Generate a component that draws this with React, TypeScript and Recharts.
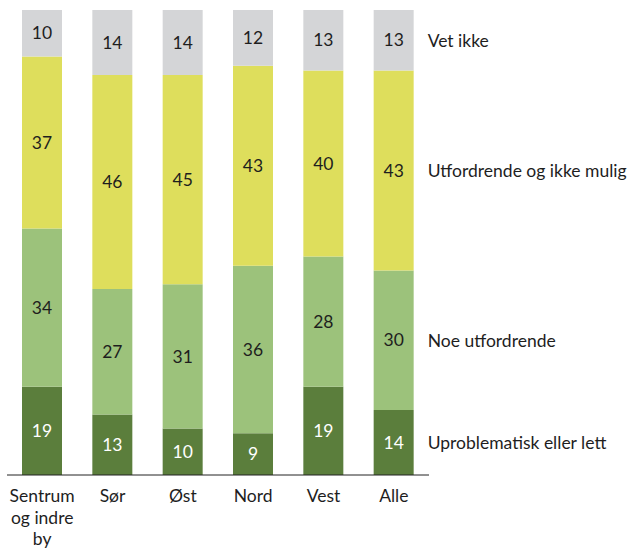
import { BarChart, Bar, XAxis, YAxis, LabelList } from "recharts";

// Andel (%) per område, fra bunn til topp i stabelen
const categories = ["Sentrum og indre by", "Sør", "Øst", "Nord", "Vest", "Alle"];
const tickLines: string[][] = [["Sentrum", "og indre", "by"], ["Sør"], ["Øst"], ["Nord"], ["Vest"], ["Alle"]];

const uproblematisk = [19, 13, 10, 9, 19, 14];
const noeUtfordrende = [34, 27, 31, 36, 28, 30];
const utfordrende = [37, 46, 45, 43, 40, 43];
const vetIkke = [10, 14, 14, 12, 13, 13];

const SERIES = [
  { key: "upr", name: "Uproblematisk eller lett", values: uproblematisk, color: "#5B7E3C", text: "#ffffff" },
  { key: "noe", name: "Noe utfordrende", values: noeUtfordrende, color: "#9CC27B", text: "#1e1e1e" },
  { key: "utf", name: "Utfordrende og ikke mulig", values: utfordrende, color: "#DEDE5C", text: "#1e1e1e" },
  { key: "vet", name: "Vet ikke", values: vetIkke, color: "#D4D5D7", text: "#1e1e1e" },
];

const data = categories.map((cat, i) => {
  const row: Record<string, any> = { cat, idx: i };
  SERIES.forEach((s) => (row[s.key] = s.values[i]));
  return row;
});

const FONT = "Lato, 'Open Sans', sans-serif";
const FS = 17.5;

function CategoryTick(props: any) {
  const { x, y, payload } = props;
  const lines = tickLines[payload.index] ?? [String(payload.value)];
  return (
    <text x={x} y={y} textAnchor="middle" fontFamily={FONT} fontSize={FS} fill="#1e1e1e">
      {lines.map((l, i) => (
        <tspan key={i} x={x} dy={i === 0 ? 27 : 21.5}>
          {l}
        </tspan>
      ))}
    </text>
  );
}

// skriver serienavnet til høyre for siste søyle
function seriesNameLabel(name: string) {
  return (props: any) => {
    const { x, y, width, height, index } = props;
    if (index !== categories.length - 1) return null;
    return (
      <text
        x={x + width + 14}
        y={y + height / 2}
        dominantBaseline="central"
        fontFamily={FONT}
        fontSize={FS}
        fill="#1e1e1e"
      >
        {name}
      </text>
    );
  };
}

export default function App() {
  return (
    <div style={{ position: "absolute", left: 0, top: 0, width: 628, height: 549, background: "#fff" }}>
      <BarChart
        width={628}
        height={549}
        data={data}
        margin={{ top: 10, right: 199, left: 7, bottom: 0 }}
        barSize={40}
      >
        <XAxis
          dataKey="cat"
          height={74}
          tickLine={false}
          tickSize={0}
          tickMargin={0}
          axisLine={{ stroke: "#222", strokeWidth: 1 }}
          tick={<CategoryTick />}
          interval={0}
        />
        <YAxis hide domain={[0, 100]} />
        {SERIES.map((s) => (
          <Bar key={s.key} dataKey={s.key} stackId="a" fill={s.color} isAnimationActive={false}>
            <LabelList
              dataKey={s.key}
              position="center"
              fill={s.text}
              fontFamily={FONT}
              fontSize={FS}
            />
            <LabelList dataKey={s.key} content={seriesNameLabel(s.name)} />
          </Bar>
        ))}
      </BarChart>
    </div>
  );
}
